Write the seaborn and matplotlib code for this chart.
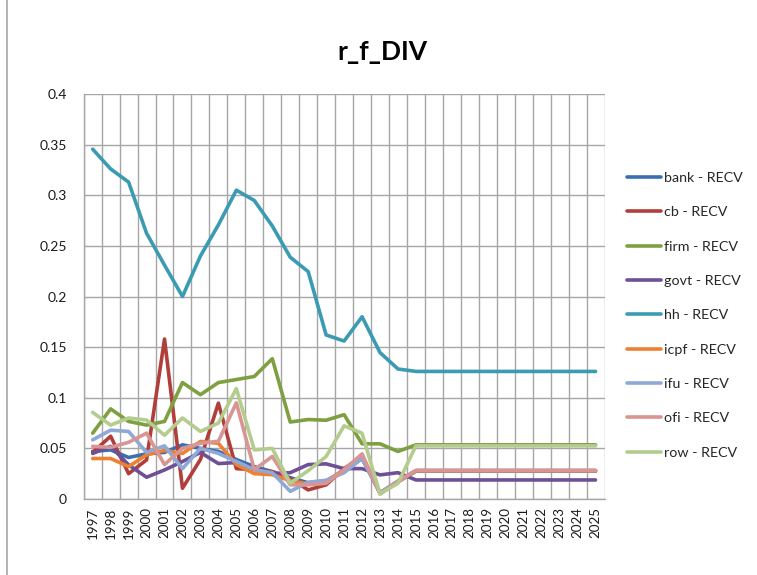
import numpy as np
import pandas as pd
import matplotlib
matplotlib.use("Agg")
import matplotlib.pyplot as plt
from matplotlib import font_manager
from matplotlib.lines import Line2D
import seaborn as sns

years = list(range(1997, 2026))

bank = [0.047, 0.0485, 0.041, 0.0446, 0.046, 0.0535, 0.050, 0.047, 0.039, 0.032,
        0.027, 0.021, 0.016, 0.018, 0.028, 0.040, 0.006, 0.0175, 0.028] + [0.028] * 10
cb = [0.046, 0.062, 0.025, 0.0386, 0.158, 0.0106, 0.039, 0.0947, 0.030, 0.029,
      0.027, 0.020, 0.009, 0.014, 0.030, 0.042, 0.006, 0.017, 0.0275] + [0.0275] * 10
firm = [0.065, 0.089, 0.0766, 0.073, 0.0766, 0.115, 0.103, 0.115, 0.118, 0.121,
        0.1386, 0.076, 0.0785, 0.0778, 0.0833, 0.0545, 0.0545, 0.047, 0.0535] + [0.0535] * 10
govt = [0.045, 0.052, 0.0337, 0.0215, 0.0287, 0.037, 0.046, 0.035, 0.036, 0.030,
        0.025, 0.026, 0.034, 0.0347, 0.030, 0.030, 0.0238, 0.026, 0.0188] + [0.0188] * 10
hh = [0.3455, 0.326, 0.313, 0.2625, 0.231, 0.200, 0.240, 0.2707, 0.305, 0.2948,
      0.2697, 0.2388, 0.2246, 0.162, 0.156, 0.180, 0.1446, 0.1284, 0.126] + [0.126] * 10
icpf = [0.040, 0.040, 0.032, 0.0436, 0.048, 0.045, 0.0568, 0.055, 0.034, 0.025,
        0.024, 0.018, 0.015, 0.017, 0.029, 0.0406, 0.006, 0.0175, 0.028] + [0.028] * 10
ifu = [0.0584, 0.068, 0.0667, 0.046, 0.0525, 0.030, 0.050, 0.045, 0.037, 0.029,
       0.026, 0.0076, 0.0165, 0.0185, 0.026, 0.040, 0.006, 0.0175, 0.028] + [0.028] * 10
ofi = [0.052, 0.051, 0.056, 0.065, 0.034, 0.050, 0.055, 0.057, 0.095, 0.029,
       0.042, 0.014, 0.014, 0.0155, 0.029, 0.0446, 0.005, 0.017, 0.0282] + [0.0282] * 10
row = [0.0855, 0.073, 0.080, 0.078, 0.063, 0.080, 0.0667, 0.075, 0.109, 0.0485,
       0.050, 0.0155, 0.028, 0.042, 0.0723, 0.065, 0.005, 0.0155, 0.0525] + [0.0525] * 10

series_names = ["bank - RECV", "cb - RECV", "firm - RECV", "govt - RECV", "hh - RECV",
                "icpf - RECV", "ifu - RECV", "ofi - RECV", "row - RECV"]
series_values = [bank, cb, firm, govt, hh, icpf, ifu, ofi, row]
colors = ["#3B6FB0", "#B03E3B", "#7FA040", "#6E5096", "#3A9BB3",
          "#EE8031", "#8EA9D6", "#D99594", "#B4CC8E"]

yticks = [0, 0.05, 0.1, 0.15, 0.2, 0.25, 0.3, 0.35, 0.4]
ytick_labels = ["0", "0.05", "0.1", "0.15", "0.2", "0.25", "0.3", "0.35", "0.4"]

df = pd.DataFrame({
    "year": np.tile(years, len(series_names)),
    "value": np.concatenate(series_values),
    "series": np.repeat(series_names, len(years)),
})

sns.set_theme(style="white")
installed = {f.name for f in font_manager.fontManager.ttflist}
base_font = "Lato" if "Lato" in installed else "DejaVu Sans"
narrow_font = "Liberation Sans Narrow" if "Liberation Sans Narrow" in installed else base_font
plt.rcParams["font.family"] = [base_font, "DejaVu Sans"]

fig = plt.figure(figsize=(7.57, 5.75), dpi=100)
ax = fig.add_axes([83.7 / 757, 1 - 499 / 575, (604.5 - 83.7) / 757, (499 - 94) / 575])

line_w = 2.6
sns.lineplot(data=df, x="year", y="value", hue="series", hue_order=series_names,
             palette=colors, linewidth=line_w, ax=ax, sort=False, legend=False,
             estimator=None)
for line in ax.get_lines():
    line.set_solid_capstyle("round")
    line.set_solid_joinstyle("round")

grid_color = "#A6A6A6"
ax.set_xlim(years[0] - 0.5, years[-1] + 0.5)
ax.set_ylim(0, 0.4)
ax.set_yticks(yticks)
ax.set_yticklabels(ytick_labels, fontsize=10, color="#1A1A1A")
ax.set_xticks(years)
ax.set_xticklabels([str(y) for y in years], rotation=90, fontsize=9.6,
                   family=[narrow_font, "DejaVu Sans"], color="#1A1A1A")
ax.set_xticks(np.arange(years[0] - 0.5, years[-1] + 1.0, 1.0), minor=True)
ax.tick_params(axis="x", which="major", length=0, pad=6)
ax.tick_params(axis="x", which="minor", length=4, width=1.0, color=grid_color, direction="out")
ax.tick_params(axis="y", which="major", length=4, width=1.0, color=grid_color,
               direction="out", pad=8)
ax.grid(True, axis="y", which="major", color=grid_color, linewidth=1.0)
ax.grid(True, axis="x", which="minor", color=grid_color, linewidth=1.0)
ax.set_axisbelow(True)
ax.set_xlabel("")
ax.set_ylabel("")
for side in ["top", "right"]:
    ax.spines[side].set_visible(False)
for side in ["left", "bottom"]:
    ax.spines[side].set_color(grid_color)
    ax.spines[side].set_linewidth(1.0)

handles = [Line2D([0], [0], color=c, linewidth=line_w, solid_capstyle="round") for c in colors]
fig.legend(handles, series_names, loc="upper left",
           bbox_to_anchor=(627 / 757, 1 - 172 / 575), frameon=False,
           fontsize=10.3, handlelength=2.4, handletextpad=0.2, labelspacing=1.56,
           borderpad=0, borderaxespad=0)

fig.text(382 / 757, 1 - 52 / 575, "r_f_DIV", ha="center", va="center",
         fontsize=19, fontweight="bold", color="#000000")

fig.add_artist(Line2D([7 / 757, 7 / 757], [0, 1], color="#A6A6A6", linewidth=1.2))

fig.savefig("out.png", dpi=100)
